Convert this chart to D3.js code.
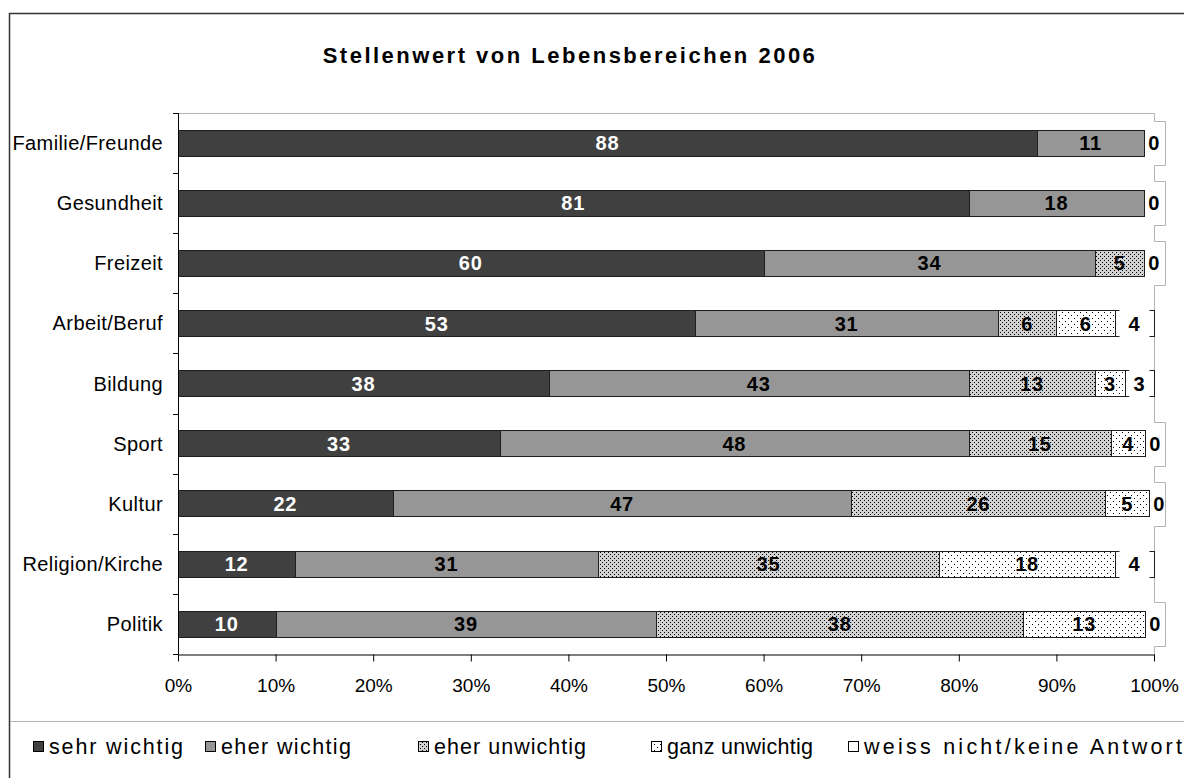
<!DOCTYPE html>
<html>
<head>
<meta charset="utf-8">
<script src="https://cdn.jsdelivr.net/npm/d3@7"></script>
<style>
  body { margin: 0; background: #fff; }
  svg { display: block; font-family: "Liberation Sans", Arial, sans-serif; }
</style>
</head>
<body>
<div id="chart"></div>
<script>
// chart data
var title = "Stellenwert von Lebensbereichen 2006";
var categories = ["Familie/Freunde", "Gesundheit", "Freizeit", "Arbeit/Beruf", "Bildung",
                  "Sport", "Kultur", "Religion/Kirche", "Politik"];
var seriesNames = ["sehr wichtig", "eher wichtig", "eher unwichtig", "ganz unwichtig",
                   "weiss nicht/keine Antwort"];
var sehrWichtig    = [88, 81, 60, 53, 38, 33, 22, 12, 10];
var eherWichtig    = [11, 18, 34, 31, 43, 48, 47, 31, 39];
var eherUnwichtig  = [0, 0, 5, 6, 13, 14.6, 26, 35, 37.6];
var ganzUnwichtig  = [0, 0, 0, 6, 3, 3.5, 4.5, 18, 12.5];
var weissNicht     = [0, 0, 0, 4, 3, 0, 0, 4, 0];
var xTicks = [0, 10, 20, 30, 40, 50, 60, 70, 80, 90, 100];

var seriesValues = [sehrWichtig, eherWichtig, eherUnwichtig, ganzUnwichtig, weissNicht];

// build rows for d3.stack
var rows = categories.map(function(c, i) {
  var r = { category: c };
  seriesNames.forEach(function(s, j) { r[s] = seriesValues[j][i]; });
  return r;
});

var W = 1184, H = 778;
var plot = { left: 178, right: 1154, top: 113, bottom: 654 };

var svg = d3.select("#chart").append("svg")
    .attr("width", W)
    .attr("height", H);

// patterns
var defs = svg.append("defs");
var p1 = defs.append("pattern").attr("id", "patEherUnw")
    .attr("patternUnits", "userSpaceOnUse").attr("width", 4).attr("height", 4);
p1.append("rect").attr("width", 4).attr("height", 4).attr("fill", "#d2d2d2");
p1.append("rect").attr("x", 0).attr("y", 0).attr("width", 1).attr("height", 1).attr("fill", "#000");
p1.append("rect").attr("x", 2).attr("y", 2).attr("width", 1).attr("height", 1).attr("fill", "#000");

var p2 = defs.append("pattern").attr("id", "patGanzUnw")
    .attr("patternUnits", "userSpaceOnUse").attr("width", 6).attr("height", 6);
p2.append("rect").attr("width", 6).attr("height", 6).attr("fill", "#fff");
p2.append("rect").attr("x", 0).attr("y", 0).attr("width", 1).attr("height", 1).attr("fill", "#000");
p2.append("rect").attr("x", 3).attr("y", 3).attr("width", 1).attr("height", 1).attr("fill", "#000");

var fills = d3.scaleOrdinal()
    .domain(seriesNames)
    .range(["#404040", "#969696", "url(#patEherUnw)", "url(#patGanzUnw)", "#ffffff"]);

// outer chart border and legend separator
svg.append("rect")
    .attr("x", 9.5).attr("y", 13.5)
    .attr("width", 1300).attr("height", 900)
    .attr("fill", "none").attr("stroke", "#333").attr("stroke-width", 1.5);
svg.append("line")
    .attr("x1", 10).attr("x2", W).attr("y1", 721.5).attr("y2", 721.5)
    .attr("stroke", "#b4b4b4");

// title
svg.append("text")
    .attr("x", 570).attr("y", 63)
    .attr("text-anchor", "middle")
    .style("font-weight", "bold")
    .style("font-size", "22px")
    .style("letter-spacing", "2.5px")
    .text(title);

// scales
var x = d3.scaleLinear().domain([0, 100]).range([plot.left, plot.right]);
var y = d3.scaleBand().domain(categories)
    .range([plot.top, plot.bottom])
    .paddingInner(0.56).paddingOuter(0.28);

// plot area border (top + right, light grey)
svg.append("path")
    .attr("d", "M" + plot.left + "," + (plot.top + 0.5) + "H" + (plot.right + 0.5) + "V" + plot.bottom)
    .attr("fill", "none").attr("stroke", "#b4b4b4");

// stacked bars
var stack = d3.stack().keys(seriesNames);
var layers = stack(rows);

var g = svg.append("g");
layers.forEach(function(layer) {
  g.selectAll(null)
    .data(layer)
    .enter().append("rect")
      .attr("x", function(d) { return Math.round(x(d[0])) + 0.5; })
      .attr("y", function(d) { return Math.round(y(d.data.category)) + 0.5; })
      .attr("width", function(d) { return Math.max(0, Math.round(x(d[1])) - Math.round(x(d[0]))); })
      .attr("height", Math.round(y.bandwidth()))
      .attr("fill", fills(layer.key))
      .attr("stroke", "#1e1e1e")
      .attr("stroke-width", 1)
      .style("display", function(d) { return d[1] - d[0] > 0 ? null : "none"; });
});

// y axis
var yAxisG = svg.append("g");
yAxisG.append("line")
    .attr("x1", plot.left + 0.5).attr("x2", plot.left + 0.5)
    .attr("y1", plot.top).attr("y2", plot.bottom + 0.5)
    .attr("stroke", "#000");
d3.range(categories.length + 1).forEach(function(i) {
  var yy = Math.round(plot.top + i * y.step()) + 0.5;
  yAxisG.append("line")
    .attr("x1", plot.left - 5).attr("x2", plot.left)
    .attr("y1", yy).attr("y2", yy)
    .attr("stroke", "#000");
});
yAxisG.selectAll(".cat")
  .data(categories)
  .enter().append("text")
    .attr("class", "cat")
    .attr("x", 163)
    .attr("y", function(d) { return y(d) + y.bandwidth() / 2; })
    .attr("dy", "0.35em")
    .attr("text-anchor", "end")
    .style("font-size", "20px")
    .style("letter-spacing", "0.4px")
    .text(function(d) { return d; });

// x axis
var xAxis = d3.axisBottom(x)
    .tickValues(xTicks)
    .tickFormat(function(d) { return d + "%"; })
    .tickSize(7)
    .tickSizeOuter(0)
    .tickPadding(17);
var xAxisG = svg.append("g")
    .attr("transform", "translate(0," + (plot.bottom + 0.5) + ")")
    .call(xAxis);
xAxisG.select(".domain").attr("stroke", "#000");
xAxisG.selectAll(".tick line").attr("stroke", "#000");
xAxisG.selectAll(".tick text")
    .attr("fill", "#000")
    .style("font-size", "19px")
    .style("font-family", "'Liberation Sans', Arial, sans-serif");

// data labels
var fmt = d3.format(".0f");
var lastKey = seriesNames[seriesNames.length - 1];
var labelG = svg.append("g");
layers.forEach(function(layer, li) {
  layer.forEach(function(d) {
    var v = d[1] - d[0];
    var isLast = layer.key === lastKey;
    if (v <= 0 && !isLast) return;
    var cy = y(d.data.category) + y.bandwidth() / 2;
    var cx;
    if (v <= 0) {
      // zero label sits just past the bar end with a boxed white background
      cx = x(d[1]) + 10;
      var bx = Math.round(x(d[1])) + 2, bTop = Math.round(cy - 22) + 0.5, bBot = Math.round(cy + 22) + 0.5;
      labelG.append("rect")
        .attr("x", bx).attr("y", bTop)
        .attr("width", 1165 - bx).attr("height", bBot - bTop)
        .attr("fill", "#fff");
      labelG.append("path")
        .attr("d", "M" + (plot.right + 0.5) + "," + bTop + "H1165.5V" + bBot + "H" + (plot.right + 0.5))
        .attr("fill", "none").attr("stroke", "#b4b4b4");
    } else {
      cx = (x(d[0]) + x(d[1])) / 2;
      if (isLast) {
        var w = x(d[1]) - x(d[0]) - 9;
        labelG.append("rect")
          .attr("x", cx - w / 2).attr("y", cy - 16)
          .attr("width", w).attr("height", 32)
          .attr("fill", "#fff");
      }
    }
    labelG.append("text")
      .attr("x", cx)
      .attr("y", cy)
      .attr("dy", "0.36em")
      .attr("text-anchor", "middle")
      .style("font-weight", "bold")
      .style("font-size", "20px")
      .style("letter-spacing", "0.8px")
      .attr("fill", li === 0 ? "#fff" : "#000")
      .text(fmt(v));
  });
});

// legend
var legendX = [33, 205, 418, 651, 848];
var legendTextW = [134, 130, 152, 146, 318];
var legend = svg.append("g");
seriesNames.forEach(function(s, i) {
  legend.append("rect")
    .attr("x", legendX[i] + 0.5).attr("y", 741.5)
    .attr("width", 10).attr("height", 10)
    .attr("fill", fills(s))
    .attr("stroke", "#000");
  legend.append("text")
    .attr("x", legendX[i] + 16).attr("y", 754)
    .attr("textLength", legendTextW[i])
    .attr("lengthAdjust", "spacing")
    .style("font-size", "21.5px")
    .text(s);
});
</script>
</body>
</html>
